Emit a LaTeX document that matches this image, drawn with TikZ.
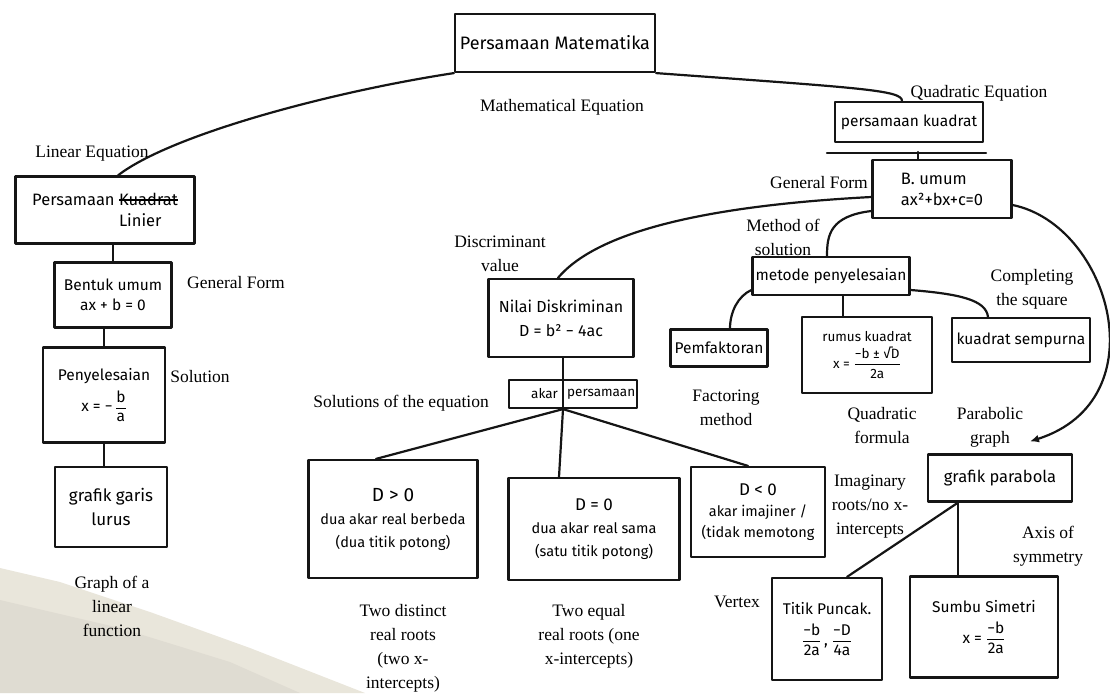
\documentclass[tikz,border=0pt]{standalone}
\usepackage{amsmath}
\usepackage{fontspec}
\setmainfont{Liberation Serif}
\newfontfamily\hand{Fira Sans}
\usetikzlibrary{arrows.meta}
\definecolor{inkc}{HTML}{151515}
\definecolor{smudge}{HTML}{E2DDCF}
% a word crossed out with a bar
\newcommand\crossword[1]{\setbox0\hbox{#1}\rlap{\rule[0.3em]{\wd0}{1.8pt}}\box0}
% stacked fraction set in the surrounding text font
\newcommand\hfrac[2]{$\dfrac{\text{#1}}{\text{#2}}$}

\begin{document}
\begin{tikzpicture}[x=1pt,y=-1pt,
  ink/.style={draw=inkc, line width=2.2pt, line cap=round, line join=round},
  box/.style={ink, rectangle, inner sep=2pt, align=center,
    font=\hand\fontsize{15.5}{20}\selectfont},
  wh/.style 2 args={minimum width=#1pt, minimum height=#2pt},
  htext/.style={inner sep=0pt, font=\hand\fontsize{13.5}{16}\selectfont},
  en/.style={inner sep=0pt, align=center, text=black,
    font=\fontsize{17.5}{24}\selectfont}
]
\useasboundingbox (0,0) rectangle (1110,693);

% worn corner of the sheet
\fill[smudge, opacity=0.75] (0,568) -- (60,582) -- (150,612) -- (250,648)
  -- (365,693) -- (0,693) -- cycle;
\fill[smudge!70!gray, opacity=0.25] (0,600) -- (120,628) -- (230,662)
  -- (300,693) -- (0,693) -- cycle;

% ---------- boxes ----------
\node[box, wh={200}{58}, font=\hand\fontsize{18}{22}\selectfont] (mat) at (555,43) {Persamaan Matematika};

% linear branch
\node[box, wh={179}{67}, align=left, font=\hand\fontsize{16.5}{21}\selectfont] (lin) at (105,210)
  {Persamaan \crossword{Kuadrat}\\\hphantom{Persamaan }Linier};
\node[box, wh={117}{65}] (bu) at (113,295) {Bentuk umum\\ax + b = 0};
\node[box, wh={122}{95}] (pen) at (104,395) {Penyelesaian\\[6pt]x = −\,\hfrac{b}{a}};
\node[box, wh={112}{80}, font=\hand\fontsize{17}{24}\selectfont] (ggl) at (111,507) {grafik garis\\lurus};

% quadratic branch
\node[box, wh={148}{40}] (pk) at (909,122) {persamaan kuadrat};
\coordinate (pkbar) at (918,152);
\node[box, wh={139}{58}, align=left, font=\hand\fontsize{16.5}{21}\selectfont] (bum) at (942,189)
  {B. umum\\ax²+bx+c=0};
\node[box, wh={157}{38}] (met) at (831,276) {metode penyelesaian};
\node[box, wh={97}{37}] (pemf) at (719,348) {Pemfaktoran};
\node[box, wh={130}{76}, font=\hand\fontsize{13.5}{17}\selectfont] (rk) at (867,355)
  {rumus kuadrat\\[4pt]x = \hfrac{−b ± √D}{2a}};
\node[box, wh={138}{44}] (ks) at (1021,340) {kuadrat sempurna};

% discriminant
\node[box, wh={145}{78}, font=\hand\fontsize{16}{24}\selectfont] (nd) at (561,318)
  {Nilai Diskriminan\\D = b² − 4ac};
\coordinate (dv) at (563,0);
\node[box, wh={128}{28}] (ap) at (573,394) {};
\node[htext, anchor=east] (ap1) at (558,394) {akar};
\node[htext, anchor=west] (ap2) at (567,394) {persamaan};
\coordinate (apf) at (ap.south -| dv);

\node[box, wh={169}{118}, font=\hand\fontsize{14.5}{23}\selectfont] (dp) at (393,519)
  {{\fontsize{19}{23}\selectfont D > 0}\\dua akar real berbeda\\(dua titik potong)};
\node[box, wh={171}{102}, font=\hand\fontsize{14.5}{23}\selectfont] (dz) at (594,529)
  {{\fontsize{17}{23}\selectfont D = 0}\\dua akar real sama\\(satu titik potong)};
\node[box, wh={134}{90}, font=\hand\fontsize{14.5}{21}\selectfont] (dn) at (758,512)
  {{\fontsize{17}{21}\selectfont D < 0}\\akar imajiner /\\(tidak memotong};

% parabola
\node[box, wh={144}{47}, font=\hand\fontsize{16.5}{20}\selectfont] (gp) at (1000,478) {grafik parabola};
\node[box, wh={110}{102}] (tp) at (827,629)
  {Titik Puncak.\\[8pt]\hfrac{−b}{2a}\,,\ \hfrac{−D}{4a}};
\node[box, wh={148}{101}] (ss) at (984,627)
  {Sumbu Simetri\\[8pt]x = \hfrac{−b}{2a}};

% ---------- connectors ----------
\draw[ink] (mat.south west) .. controls (330,92) and (170,135) .. ([xshift=13pt]lin.north);
\draw[ink] (mat.south east) .. controls (860,88) and (902,90) .. ([xshift=-7pt]pk.north);
\draw[ink] ([xshift=-7pt,yshift=-10pt]pk.south west) -- ([xshift=2pt,yshift=-10pt]pk.south east);
\draw[ink] (pkbar) -- (bum.north -| pkbar);

\draw[ink] (bu.north |- lin.south) -- (bu.north);
\draw[ink] (pen.north |- bu.south) -- (pen.north);
\draw[ink] (pen.south) -- (pen.south |- ggl.north);

\draw[ink] ([yshift=-8pt]bum.west) .. controls (720,205) and (600,228) .. ([xshift=-3pt]nd.north);
\draw[ink] ([yshift=-22pt]bum.west) .. controls (830,216) and (827,235) .. ([xshift=-4pt]met.north);
\draw[ink] ([xshift=12pt]met.south) -- ([xshift=12pt]met.south |- rk.north);
\draw[ink] ([yshift=-14pt]met.west) .. controls (738,296) and (730,312) .. ([xshift=11pt]pemf.north);
\draw[ink] ([yshift=-14pt]met.east) .. controls (960,294) and (986,300) .. ([xshift=-33pt]ks.north);
\draw[ink, -{Latex[length=9pt,width=8pt]}] ([yshift=-16pt]bum.east)
  .. controls (1110,225) and (1160,400) .. ([xshift=30pt,yshift=12pt]gp.north);

\draw[ink] (nd.south -| dv) -- (ap.north -| dv);
\draw[ink] (ap.north -| dv) -- (apf);
\draw[ink] (apf) -- ([xshift=-17pt]dp.north);
\draw[ink] (apf) -- ([xshift=-35pt]dz.north);
\draw[ink] (apf) -- ([xshift=-10pt]dn.north);

\coordinate (ssx) at (958,0);
\draw[ink] ([xshift=-42pt]gp.south) -- ([xshift=20pt]tp.north);
\draw[ink] ([xshift=-42pt]gp.south) -- (ss.north -| ssx);

% ---------- English labels ----------
\node[en] (lMat) at (562,107) {Mathematical Equation};
\node[en] (lLin) at (92,154) {Linear Equation};
\node[en] (lGF1) at (236,283) {General Form};
\node[en] (lSol) at (200,377) {Solution};
\node[en] (lGL) at (112,606) {Graph of a\\linear\\function};
\node[en] (lQE) at (979,93) {Quadratic Equation};
\node[en] (lGF2) at (819,183) {General Form};
\node[en] (lMS) at (783,237) {Method of\\solution};
\node[en] (lCS) at (1032,289) {Completing\\the square};
\node[en] (lDV) at (500,254) {Discriminant\\value};
\node[en] (lSE) at (401,403) {Solutions of the equation};
\node[en] (lFM) at (726,408) {Factoring\\method};
\node[en] (lQF) at (882,426) {Quadratic\\formula};
\node[en] (lPG) at (990,427) {Parabolic\\graph};
\node[en] (lIR) at (870,507) {Imaginary\\roots/no x-\\intercepts};
\node[en] (lVx) at (737,602) {Vertex};
\node[en] (lAS) at (1048,546) {Axis of\\symmetry};
\node[en] (lTD) at (403,648) {Two distinct\\real roots\\(two x-\\intercepts)};
\node[en] (lTE) at (589,636) {Two equal\\real roots (one\\x-intercepts)};
\end{tikzpicture}
\end{document}
